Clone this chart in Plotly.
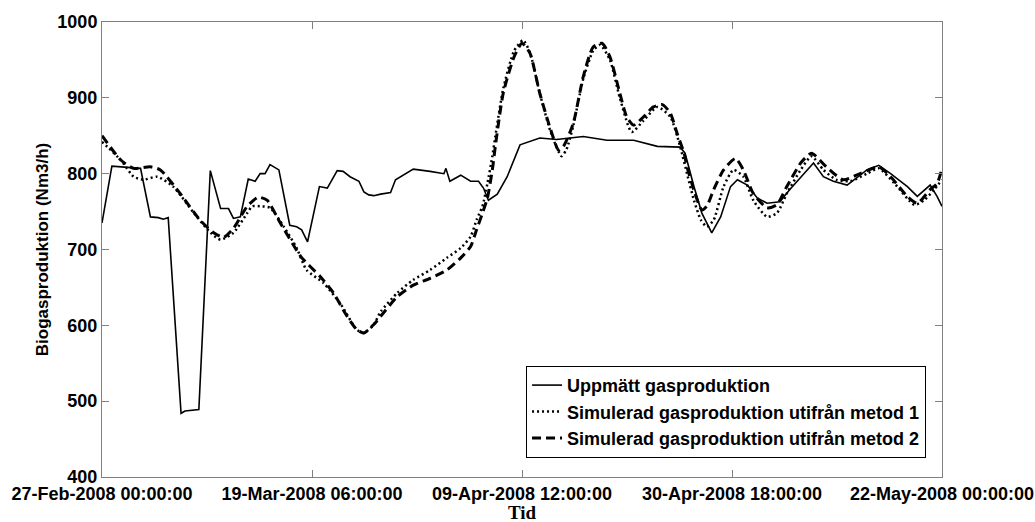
import pandas as pd
import plotly.graph_objects as go

START = "2008-02-27 00:00:00"

# Measured gas production (days since start, Nm3/h)
meas_days = [0.0, 1.0, 3.9, 4.9, 5.7, 6.2, 6.7, 8.0, 8.4, 8.9, 9.8, 10.96, 12.0, 12.8, 13.3, 14.0,
             14.8, 15.5, 16.0, 16.5, 17.0, 17.9, 19.0, 19.7, 20.2, 20.8, 22.0, 22.8, 23.3, 23.8,
             24.4, 25.1, 26.0, 26.5, 27.0, 27.5, 28.2, 29.2, 29.7, 30.5, 31.5, 33.2, 34.6, 34.8,
             35.2, 36.3, 37.3, 38.1, 38.6, 39.1, 40.0, 41.0, 42.3, 44.3, 46.0, 48.7, 51.1, 53.8,
             56.2, 58.5, 59.0, 59.9, 60.7, 61.7, 62.6, 63.6, 64.3, 65.3, 66.3, 67.3, 68.6, 69.6,
             71.0, 72.0, 73.0, 74.0, 75.4, 77.4, 78.6, 79.8, 81.5, 82.5, 83.8, 84.5, 85.0]
meas_vals = [735, 810, 807, 743, 742, 740, 742, 484, 487, 488, 489, 804, 754, 754, 741, 743,
             793, 790, 800, 800, 812, 805, 732, 730, 726, 710, 783, 781, 792, 804,
             803, 796, 790, 776, 772, 771, 773, 775, 792, 798, 806, 803, 800, 807,
             790, 798, 790, 790, 781, 765, 773, 796, 838, 847, 845, 849, 844, 844,
             836, 835, 827, 783, 748, 722, 743, 783, 792, 785, 768, 761, 763, 779,
             800, 814, 796, 790, 785, 805, 811, 800, 783, 770, 785, 770, 757]

# Simulated, method 1
m1_days = [0.0, 1.9, 3.2, 4.2, 5.6, 7.2, 9.3, 11.0, 12.0, 13.3, 14.7, 15.2, 16.0, 17.0, 18.4,
           19.7, 20.7, 22.4, 24.1, 25.8, 26.5, 27.5, 28.2, 29.9, 31.5, 33.2, 34.9, 36.3, 37.3,
           37.9, 38.5, 39.0, 39.5, 39.8, 40.6, 41.7, 42.6, 43.3, 44.3, 45.4, 46.5, 47.0, 47.7,
           48.7, 49.7, 50.4, 51.4, 52.4, 53.6, 54.8, 56.2, 57.5, 58.5, 59.2, 59.9, 60.6, 61.2,
           61.9, 62.9, 63.9, 64.9, 65.9, 67.3, 68.3, 69.3, 70.7, 71.8, 73.0, 74.3, 75.7, 77.4,
           78.6, 80.2, 82.2, 83.2, 84.2, 85.0]
m1_vals = [842, 818, 796, 792, 796, 783, 748, 722, 713, 722, 748, 757, 757, 755, 730,
           702, 673, 656, 629, 594, 590, 601, 618, 643, 660, 673, 689, 702, 717,
           739, 757, 787, 823, 849, 912, 962, 976, 960, 906, 855, 823, 832, 864,
           925, 962, 970, 950, 900, 855, 870, 888, 875, 836, 800, 765, 739, 730,
           739, 783, 805, 796, 765, 743, 748, 774, 805, 823, 805, 792, 790, 800,
           807, 787, 759, 765, 779, 792]

# Simulated, method 2
m2_days = [0.0, 1.9, 3.2, 4.9, 5.9, 7.9, 9.9, 11.3, 12.3, 13.3, 14.7, 15.8, 16.7, 18.0, 20.1,
           22.1, 23.4, 24.8, 25.8, 26.5, 27.5, 28.2, 29.9, 31.5, 33.2, 34.9, 36.3, 37.3, 37.9,
           38.5, 39.0, 39.5, 39.8, 40.6, 41.7, 42.5, 43.3, 44.3, 45.4, 46.2, 46.7, 47.7, 48.7,
           49.7, 50.6, 51.4, 52.4, 53.1, 53.8, 54.8, 55.8, 56.7, 57.5, 58.2, 58.9, 59.2, 60.0,
           60.7, 61.2, 61.9, 62.9, 64.1, 64.9, 65.9, 67.3, 68.3, 69.3, 70.7, 71.8, 73.3, 75.0,
           76.7, 78.6, 79.8, 81.5, 82.5, 83.8, 84.5, 85.0]
m2_vals = [850, 818, 807, 809, 805, 774, 739, 722, 716, 728, 757, 769, 765, 736, 691,
           664, 643, 612, 594, 590, 601, 612, 638, 653, 662, 673, 689, 704, 726,
           748, 768, 805, 836, 906, 954, 972, 959, 906, 858, 831, 836, 867, 928,
           967, 972, 954, 906, 875, 864, 875, 888, 891, 880, 853, 827, 809, 774,
           752, 757, 779, 805, 820, 805, 774, 755, 759, 783, 814, 827, 809, 792,
           800, 809, 796, 770, 761, 779, 787, 807]

tick_dates = ["2008-02-27 00:00:00", "2008-03-19 06:00:00", "2008-04-09 12:00:00",
              "2008-04-30 18:00:00", "2008-05-22 00:00:00"]
tick_labels = ["27-Feb-2008 00:00:00", "19-Mar-2008 06:00:00", "09-Apr-2008 12:00:00",
               "30-Apr-2008 18:00:00", "22-May-2008 00:00:00"]
y_ticks = [400, 500, 600, 700, 800, 900, 1000]

names = ["Uppmätt gasproduktion",
         "Simulerad gasproduktion utifrån metod 1",
         "Simulerad gasproduktion utifrån metod 2"]
x_title = "Tid"
y_title = "Biogasproduktion (Nm3/h)"

start = pd.Timestamp(START)
def to_dates(days):
    return [start + pd.Timedelta(days=d) for d in days]

fig = go.Figure()
fig.add_trace(go.Scatter(x=to_dates(meas_days), y=meas_vals, mode="lines", name=f"<b>{names[0]}</b>",
                         line=dict(color="black", width=1.6)))
fig.add_trace(go.Scatter(x=to_dates(m1_days), y=m1_vals, mode="lines", name=f"<b>{names[1]}</b>",
                         line=dict(color="black", width=2.5, dash="2px,3px", shape="spline", smoothing=0.6)))
fig.add_trace(go.Scatter(x=to_dates(m2_days), y=m2_vals, mode="lines", name=f"<b>{names[2]}</b>",
                         line=dict(color="black", width=3, dash="9px,5px", shape="spline", smoothing=0.6)))

sans = "Liberation Sans, Arial, sans-serif"
axis_common = dict(showline=True, linecolor="#808080", linewidth=1, mirror="ticks",
                   ticks="inside", ticklen=7, tickcolor="#808080", showgrid=False,
                   zeroline=False, automargin=False,
                   tickfont=dict(family=sans, size=18, color="black"))

fig.update_xaxes(range=[pd.Timestamp(tick_dates[0]), pd.Timestamp(tick_dates[-1])],
                 tickvals=[pd.Timestamp(t) for t in tick_dates],
                 ticktext=[f"<b>{t}</b>" for t in tick_labels],
                 ticklabelstandoff=0,
                 **axis_common)
fig.update_yaxes(range=[400, 1000], tickvals=y_ticks, ticktext=[f"<b>{v}</b>" for v in y_ticks],
                 title=dict(text=f"<b>{y_title}</b>", standoff=4,
                            font=dict(family=sans, size=17, color="black")),
                 **axis_common)

fig.add_annotation(text=f"<b>{x_title}</b>", xref="paper", yref="paper", x=0.5, y=-0.079,
                   xanchor="center", yanchor="middle", showarrow=False,
                   font=dict(family="Liberation Serif, Times New Roman, serif", size=19, color="black"))

fig.update_layout(
    width=1035, height=522,
    margin=dict(l=102, r=93, t=22, b=45),
    plot_bgcolor="white", paper_bgcolor="white",
    showlegend=True,
    legend=dict(x=0.981, y=0.042, xanchor="right", yanchor="bottom",
                bgcolor="white", bordercolor="black", borderwidth=1,
                font=dict(family=sans, size=18, color="black"),
                tracegroupgap=0, itemwidth=30),
)

fig.write_html("out.html")
